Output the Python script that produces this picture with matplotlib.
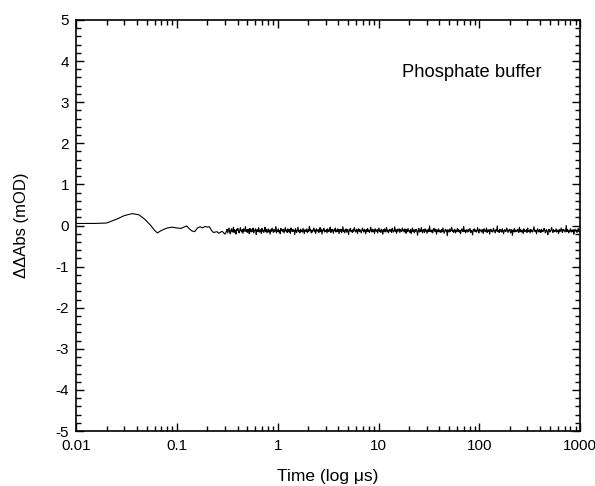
import numpy as np
import matplotlib
matplotlib.use("Agg")
import matplotlib.pyplot as plt
from matplotlib.ticker import LogLocator, FixedLocator, NullFormatter

plt.rcParams['font.family'] = ['Liberation Sans', 'DejaVu Sans']
plt.rcParams['axes.unicode_minus'] = False

# early part of the trace (time in us, signal in mOD)
t_early = [0.01, 0.015, 0.02, 0.025, 0.03, 0.036, 0.042, 0.048, 0.055, 0.06,
           0.064, 0.07, 0.08, 0.09, 0.1, 0.11, 0.12, 0.125, 0.13, 0.14,
           0.15, 0.16, 0.17, 0.18, 0.19, 0.2, 0.21, 0.22, 0.23, 0.25,
           0.26, 0.28, 0.3]
y_early = [0.05, 0.05, 0.06, 0.15, 0.24, 0.29, 0.26, 0.15, 0.0, -0.12,
           -0.18, -0.12, -0.06, -0.04, -0.06, -0.07, -0.03, -0.01, -0.06, -0.13,
           -0.15, -0.06, -0.03, -0.06, -0.02, -0.04, -0.03, -0.12, -0.17, -0.15,
           -0.19, -0.14, -0.21]

# noisy tail, 0.3 us to 1000 us, in hundredths of mOD
tail_cents = [
    -14, -9, -18, -12, -6, -15, -20, -11, -8, -16, -13, -4, -17, -10, -14, -21, -9, -12, -7, -15,
    -18, -11, -5, -13, -16, -10, -19, -8, -14, -12, -3, -15, -11, -17, -9, -13, -20, -7, -12, -16,
    -10, -14, -6, -18, -11, -13, -8, -22, -12, -9, -15, -5, -16, -13, -10, -19, -7, -14, -11, -17,
    -12, -4, -15, -9, -18, -13, -8, -16, -11, -21, -10, -14, -6, -12, -17, -9, -15, -13, -3, -18,
    -11, -14, -8, -16, -12, -20, -7, -13, -10, -15, -9, -18, -12, -5, -14, -11, -17, -8, -13, -16,
    -10, -19, -6, -12, -15, -9, -14, -11, -22, -8, -13, -17, -10, -4, -15, -12, -18, -9, -14, -11,
    -16, -7, -13, -20, -10, -12, -15, -8, -17, -11, -14, -2, -13, -9, -18, -12, -16, -10, -6, -15,
    -11, -19, -8, -13, -14, -10, -17, -12, -5, -15, -9, -21, -11, -13, -7, -16, -12, -14, -10, -18,
    -8, -13, -15, -11, -4, -17, -12, -9, -14, -19, -10, -13, -6, -16, -11, -15, -8, -12, -20, -10,
    -14, -9, -17, -13, -3, -15, -11, -18, -12, -8, -16, -10, -14, -22, -9, -13, -7, -15, -12, -17,
    -10, -14, -5, -11, -16, -13, -9, -19, -12, -8, -15, -10, -14, -18, -11, -6, -13, -16, -9, -12,
    -20, -10, -15, -7, -14, -11, -17, -13, -4, -12, -16, -9, -15, -11, -19, -8, -13, -14, -10, -18,
    -12, -6, -15, -11, -17, -9, -13, -21, -10, -14, -8, -16, -12, -5, -15, -11, -18, -13, -9, -14,
    -10, -17, -7, -12, -16, -13, -3, -15, -11, -19, -9, -14, -12, -8, -17, -10, -13, -15, -6, -12,
    -11, -16, -8, -13, -19, -10, -15, -7, -14, -12, -17, -9, -20, -13, -6, -15, -11, -18, -10, -14,
    -9, -13, -24, -12, -7, -16, -11, -15, -5, -13, -18, -10, -12, -17, -8, -14, -11, -19, -13, -9,
    -15, -1, -14, -12, -16, -10, -18, -11, -7, -13, -15, -9, -21, -12, -14, -8, -16, -11, -13, -17,
    -10, -15, -6, -12, -19, -13, -9, -14, -11, -25, -10, -13, -16, -8, -15, -12, -4, -14, -11, -17,
    -13, -9, -18, -12, -15, -7, -14, -10, -16, -12, -20, -11, -8, -13, -15, -2, -14, -12, -18, -10,
    -13, -16, -9, -15, -11, -7, -17, -12, -14, -23, -10, -13, -8, -15, -11, -16, -12, -5, -14, -18,
    -9, -13, -11, -16, -10, -14, -19, -8, -12, -15, -13, -6, -17, -11, -14, -10, -21, -12, -9, -15,
    -13, -16, -7, -11, -14, -18, -10, -13, -1, -15, -12, -17, -9, -14, -11, -16, -8, -13, -20, -12,
    -10, -15, -14, -6, -12, -17, -11, -13, -9, -18, -15, -10, -24, -12, -14, -7, -16, -11, -13, -15,
    -9, -12, -17, -4, -14, -10, -16, -13, -11, -19, -8, -15, -12, -14, -10, -17, -6, -13, -15, -11,
    -18, -9, -14, -12, -16, -10, -3, -13, -15, -11, -20, -12, -8, -14, -16, -10, -13, -17, -9, -15,
    -12, -14, -7, -11, -18, -13, -10, -15, -22, -12, -9, -16, -14, -11, -5, -13, -17, -10, -15, -12,
    -14, -8, -16, -11, -13, -19, -10, -15, -12, -6, -14, -17, -9, -13, -11, -16, -12, 0, -15, -10,
    -13, -18, -11, -14, -8, -16, -12, -15, -10, -21, -13, -9, -14, -11, -17, -12, -7, -15, -13, -10,
]

t_tail = np.geomspace(0.31, 1000, len(tail_cents))
t = np.concatenate([t_early, t_tail])
y = np.concatenate([y_early, np.array(tail_cents) / 100.0])

fig = plt.figure(figsize=(5.95, 4.86), dpi=100)
ax = fig.add_axes([0.128, 0.113, 0.847, 0.846])

ax.plot(t, y, color='black', lw=0.8)

ax.set_xscale('log')
ax.set_xlim(0.01, 1000)
ax.set_ylim(-5, 5)

ax.xaxis.set_major_locator(FixedLocator([0.01, 0.1, 1, 10, 100, 1000]))
ax.set_xticklabels(['0.01', '0.1', '1', '10', '100', '1000'])
ax.xaxis.set_minor_locator(LogLocator(base=10, subs=np.arange(2, 10), numticks=20))
ax.xaxis.set_minor_formatter(NullFormatter())
ax.set_yticks(np.arange(-5, 6, 1))
ax.set_yticks(np.arange(-5, 5.01, 0.2), minor=True)

ax.tick_params(which='both', direction='in', top=True, right=True, width=1.0,
               labelsize=11, colors='black')
ax.tick_params(which='major', length=6)
ax.tick_params(which='minor', length=3.5)
ax.tick_params(axis='x', which='major', pad=6)
ax.tick_params(axis='y', which='major', pad=5)
for s in ax.spines.values():
    s.set_linewidth(1.2)

ax.set_xlabel('Time (log \u03bcs)', fontsize=12.5, labelpad=11)
ax.set_ylabel('\u0394\u0394Abs (mOD)', fontsize=12, labelpad=19)

ax.text(17.1, 3.73, 'Phosphate buffer', fontsize=13.2, ha='left', va='center')

fig.savefig('out.png', dpi=100)
